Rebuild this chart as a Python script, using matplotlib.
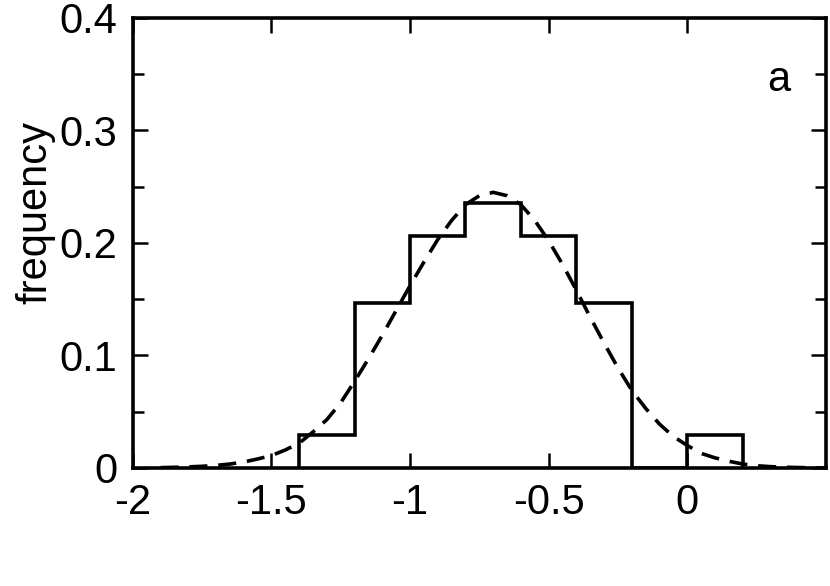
import numpy as np
import matplotlib.pyplot as plt
from matplotlib.ticker import MultipleLocator

plt.rcParams['font.family'] = ['Liberation Sans', 'DejaVu Sans']

# histogram: bin edges and counts (34 samples)
bin_edges = [-1.4, -1.2, -1.0, -0.8, -0.6, -0.4, -0.2, 0.0, 0.2]
counts = [1, 5, 7, 8, 7, 5, 0, 1]
n_total = 34

# fitted curve
fit_x = [-1.9, -1.85, -1.8, -1.75, -1.7, -1.65, -1.6, -1.55, -1.5, -1.45,
         -1.4, -1.35, -1.3, -1.25, -1.2, -1.15, -1.1, -1.05, -1.0, -0.95,
         -0.9, -0.85, -0.8, -0.75, -0.7, -0.65, -0.6, -0.55, -0.5, -0.45,
         -0.4, -0.35, -0.3, -0.25, -0.2, -0.15, -0.1, -0.05, 0.0, 0.05,
         0.1, 0.15, 0.2, 0.25, 0.3, 0.35, 0.4, 0.45, 0.5]
fit_y = [0.0003, 0.0006, 0.001, 0.0015, 0.0023, 0.0035, 0.0053, 0.008, 0.011, 0.016,
         0.022, 0.032, 0.043, 0.058, 0.077, 0.097, 0.118, 0.140, 0.162, 0.183,
         0.203, 0.220, 0.234, 0.242, 0.245, 0.242, 0.234, 0.220, 0.202, 0.181,
         0.158, 0.134, 0.111, 0.089, 0.069, 0.053, 0.039, 0.028, 0.020, 0.013,
         0.009, 0.006, 0.0035, 0.002, 0.0012, 0.0007, 0.0004, 0.0002, 0.0001]

x_ticks = [-2, -1.5, -1, -0.5, 0]
x_labels = ['-2', '-1.5', '-1', '-0.5', '0']
y_ticks = [0, 0.1, 0.2, 0.3, 0.4]
y_labels = ['0', '0.1', '0.2', '0.3', '0.4']

fig = plt.figure(figsize=(8.3, 5.86), dpi=100)
ax = fig.add_axes([0.160, 0.2014, 0.835, 0.768])

freq = np.array(counts) / n_total
ax.stairs(freq, bin_edges, color='black', linewidth=2.6)
ax.plot(fit_x, fit_y, color='black', linewidth=2.6, linestyle=(0, (5, 3)))

ax.set_xlim(-2, 0.5)
ax.set_ylim(0, 0.4)
ax.set_xticks(x_ticks)
ax.set_xticklabels(x_labels)
ax.set_yticks(y_ticks)
ax.set_yticklabels(y_labels)
ax.yaxis.set_minor_locator(MultipleLocator(0.05))

ax.tick_params(which='both', direction='in', top=True, right=True,
               labelsize=30, width=1.8, pad=11)
ax.tick_params(which='major', length=11)
ax.tick_params(which='minor', length=8)
for s in ax.spines.values():
    s.set_linewidth(2.6)

ax.set_ylabel('frequency', fontsize=30)
ax.yaxis.set_label_coords(-0.112, 0.567)
ax.text(0.33, 0.345, 'a', fontsize=30, ha='center', va='center')

fig.savefig('out.png', dpi=100, facecolor='white')
